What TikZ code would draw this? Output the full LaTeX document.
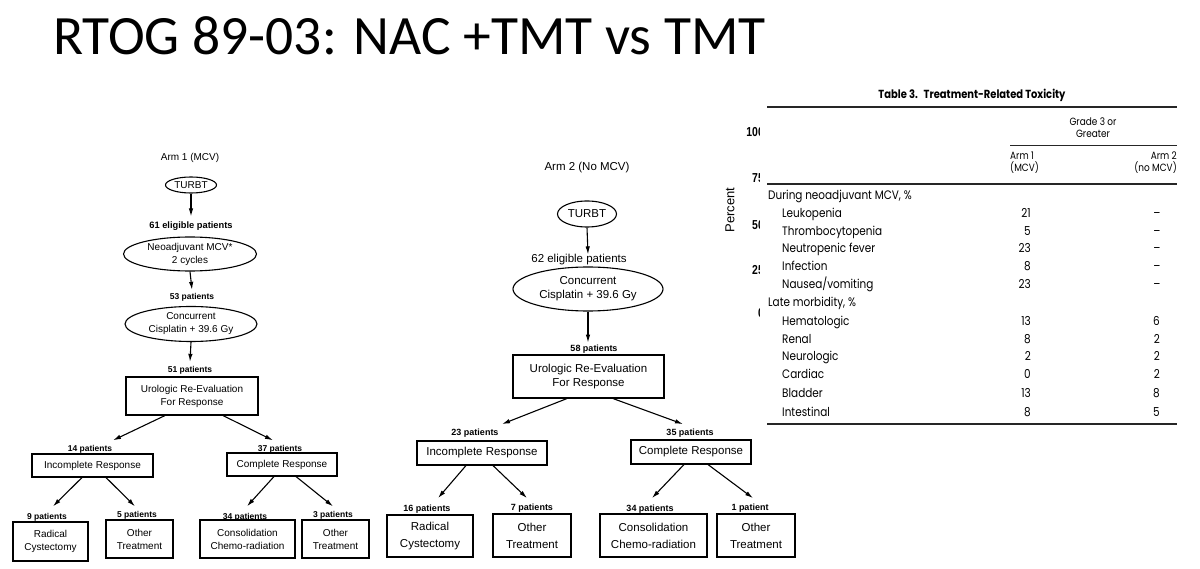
\documentclass[tikz,border=0pt]{standalone}
\usepackage{fontspec}
\usetikzlibrary{shapes.geometric,arrows.meta}
\setmainfont{Liberation Sans}
\newfontfamily\titlefont{Carlito}
\newfontfamily\fcfont{Liberation Sans}
\newfontfamily\tabfont[FakeStretch=0.85]{Poppins}
\newfontfamily\axfont[FakeStretch=0.8]{Liberation Sans}
\newcommand\fsz[2]{\fontsize{#1}{#2}\selectfont}
\begin{document}
\begin{tikzpicture}[x=1pt,y=-1pt,
  fc/.style={font=\fcfont\fsz{10}{13}, align=center, inner sep=0pt},
  fcR/.style={font=\fcfont\fsz{11.5}{14}, align=center, inner sep=0pt},
  fcRb/.style={font=\fcfont\fsz{11.5}{17}, align=center, inner sep=0pt},
  cnt/.style={font=\fcfont\bfseries\fsz{8.5}{10}, inner sep=0pt},
  cntR/.style={font=\fcfont\bfseries\fsz{9}{10}, inner sep=0pt},
  ell/.style={draw, ellipse, line width=1.1pt, inner sep=0pt},
  box/.style={draw, rectangle, line width=1.1pt, inner sep=0pt},
  arr/.style={-{Latex[length=8pt,width=4.5pt]}, line width=1.1pt},
  tab/.style={font=\tabfont\fsz{12.3}{14}, inner sep=0pt},
  tabh/.style={font=\tabfont\fsz{10.5}{12}, inner sep=0pt},
  rule/.style={line width=1.3pt, draw=black!85},
  thinrule/.style={line width=0.8pt, draw=black!85},
  ax/.style={font=\axfont\bfseries\fsz{13}{14}, inner sep=0pt, anchor=base east}
]
\fill[white] (0,0) rectangle (1200,569);
\useasboundingbox (0,0) rectangle (1200,569);

% title
\node[font=\titlefont\fsz{55.5}{60}, anchor=base west, inner sep=0pt] (title) at (53,55) {RTOG 89-03: NAC +TMT vs TMT};

% ---------- Arm 1 ----------
\node[fc] (arm1) at (190,158) {Arm 1 (MCV)};
\node[ell, fc, minimum width=51, minimum height=16] (turbt1) at (191,185) {TURBT};
\node[cnt, font=\fcfont\bfseries\fsz{9.3}{10}] (elig1) at (191,226) {61 eligible patients};
\node[ell, fc, minimum width=133, minimum height=34] (neo1) at (190,254) {Neoadjuvant MCV*\\2 cycles};
\node[cnt] (p53) at (192,297) {53 patients};
\node[ell, fc, minimum width=132, minimum height=35] (conc1) at (191,324) {Concurrent\\Cisplatin + 39.6 Gy};
\node[cnt] (p51) at (190,370) {51 patients};
\node[box, fc, minimum width=132, minimum height=38] (uro1) at (192,396) {Urologic Re-Evaluation\\For Response};
\node[cnt] (p14) at (90,449) {14 patients};
\node[cnt] (p37) at (280,449) {37 patients};
\node[box, fc, minimum width=121, minimum height=23] (inc1) at (92.5,465.5) {Incomplete Response};
\node[box, fc, minimum width=110, minimum height=23] (comp1) at (282,464.5) {Complete Response};
\node[cnt] (p9) at (47,517) {9 patients};
\node[cnt] (p5) at (137,515) {5 patients};
\node[cnt] (p34) at (245,517) {34 patients};
\node[cnt] (p3) at (333,515) {3 patients};
\node[box, fc, minimum width=75, minimum height=39] (rc1) at (50.5,541.5) {Radical\\Cystectomy};
\node[box, fc, minimum width=67, minimum height=38] (ot1) at (139.5,539) {Other\\Treatment};
\node[box, fc, minimum width=95, minimum height=38] (cc1) at (247.5,539) {Consolidation\\Chemo-radiation};
\node[box, fc, minimum width=67, minimum height=38] (ot1b) at (335.5,539) {Other\\Treatment};

\draw[arr] (turbt1.south) -- ([yshift=5pt]elig1.north);
\draw[arr] (neo1.south) -- ([yshift=3pt]p53.north);
\draw[arr] (conc1.south) -- ([yshift=4pt]p51.north);
\draw[arr] ([xshift=-27pt]uro1.south) -- ([xshift=23pt,yshift=4.5pt]p14.north);
\draw[arr] ([xshift=31pt]uro1.south) -- ([xshift=-7pt,yshift=4.5pt]p37.north);
\draw[arr] ([xshift=-10.5pt]inc1.south) -- ([xshift=6pt,yshift=6.5pt]p9.north);
\draw[arr] ([xshift=13.5pt]inc1.south) -- ([xshift=-2pt,yshift=4.5pt]p5.north);
\draw[arr] ([xshift=-8pt]comp1.south) -- ([xshift=2pt,yshift=6.5pt]p34.north);
\draw[arr] ([xshift=14pt]comp1.south) -- ([yshift=4.5pt]p3.north);

% ---------- Arm 2 ----------
\node[fcR] (arm2) at (587,168) {Arm 2 (No MCV)};
\node[ell, fcR, minimum width=59, minimum height=26] (turbt2) at (587,214) {TURBT};
\node[fcR] (elig2) at (579,260) {62 eligible patients};
\node[ell, fcR, minimum width=150, minimum height=44] (conc2) at (588,289) {Concurrent\\Cisplatin + 39.6 Gy};
\node[cntR] (p58) at (594,349) {58 patients};
\node[box, fcR, minimum width=151, minimum height=43] (uro2) at (588.5,376.5) {Urologic Re-Evaluation\\For Response};
\node[cntR] (p23) at (475,433) {23 patients};
\node[cntR] (p35) at (690,433) {35 patients};
\node[box, fcR, minimum width=130, minimum height=24] (inc2) at (482,453) {Incomplete Response};
\node[box, fcR, minimum width=120, minimum height=24] (comp2) at (691,452) {Complete Response};
\node[cntR] (p16) at (427,509) {16 patients};
\node[cntR] (p7) at (532,508) {7 patients};
\node[cntR] (p34b) at (650,509) {34 patients};
\node[cntR] (p1) at (750,508) {1 patient};
\node[box, fcRb, minimum width=86, minimum height=42] (rc2) at (430,536) {Radical\\Cystectomy};
\node[box, fcRb, minimum width=78, minimum height=43] (ot2) at (532,535.5) {Other\\Treatment};
\node[box, fcRb, minimum width=107, minimum height=43] (cc2) at (653.5,535.5) {Consolidation\\Chemo-radiation};
\node[box, fcRb, minimum width=78, minimum height=43] (ot2b) at (756,535.5) {Other\\Treatment};

\draw[arr] (turbt2.south) -- ([xshift=9pt]elig2.north);
\draw[arr] (conc2.south) -- ([xshift=-6pt,yshift=2pt]p58.north);
\draw[arr] ([xshift=-21.5pt]uro2.south) -- ([xshift=27pt,yshift=4.5pt]p23.north);
\draw[arr] ([xshift=24.5pt]uro2.south) -- ([xshift=-7pt,yshift=4.5pt]p35.north);
\draw[arr] ([xshift=-16pt]inc2.south) -- ([xshift=11pt,yshift=6.5pt]p16.north);
\draw[arr] ([xshift=11pt]inc2.south) -- ([xshift=-5pt,yshift=5.5pt]p7.north);
\draw[arr] ([xshift=-7pt]comp2.south) -- ([xshift=2pt,yshift=6.5pt]p34b.north);
\draw[arr] ([xshift=17pt]comp2.south) -- ([xshift=3pt,yshift=5.5pt]p1.north);

% ---------- chart remnant behind the table ----------
\node[ax] (y100) at (764,137) {100};
\node[ax] (y75) at (764,183) {75};
\node[ax] (y50) at (764,230) {50};
\node[ax] (y25) at (764,275) {25};
\node[ax] (y0) at (764,318) {0};
\node[font=\fcfont\fsz{13}{14}, rotate=90, inner sep=0pt] (pct) at (730,210) {Percent};

% ---------- table ----------
\fill[white] (759.5,75) rectangle (1195,440);
\node[font=\tabfont\bfseries\fsz{11.7}{13}, inner sep=0pt] (ttl) at (972,95) {Table 3.\enspace Treatment-Related Toxicity};
\draw[rule] (767,107) -- (1177,107);
\node[tabh, align=center] (grade) at (1093,127.5) {Grade 3 or\\Greater};
\draw[thinrule] (1010,145) -- (1177,145);
\node[tabh, align=left, anchor=west] (a1h) at (1010,163) {Arm 1\\(MCV)};
\node[tabh, align=right, anchor=east] (a2h) at (1177,163) {Arm 2\\(no MCV)};
\draw[rule] (767,184) -- (1177,184);

\node[tab, anchor=base west] (s1) at (768,200) {During neoadjuvant MCV, \%};
\foreach \lbl/\va/\yy [count=\i] in {
  Leukopenia/21/218, Thrombocytopenia/5/236, Neutropenic fever/23/253,
  Infection/8/271, Nausea\slash vomiting/23/289}{
  \node[tab, anchor=base west] (ra\i) at (782,\yy) {\lbl};
  \node[tab, anchor=base east] (ra\i c1) at (1031,\yy) {\va};
  \node[tab, anchor=base] (ra\i c2) at (1157,\yy) {\textendash};
}
\node[tab, anchor=base west] (s2) at (768,307) {Late morbidity, \%};
\foreach \lbl/\va/\vb/\yy [count=\i] in {
  Hematologic/13/6/326, Renal/8/2/344, Neurologic/2/2/361,
  Cardiac/0/2/379, Bladder/13/8/397, Intestinal/8/5/416}{
  \node[tab, anchor=base west] (rb\i) at (782,\yy) {\lbl};
  \node[tab, anchor=base east] (rb\i c1) at (1031,\yy) {\va};
  \node[tab, anchor=base east] (rb\i c2) at (1160,\yy) {\vb};
}
\draw[rule] (767,424) -- (1177,424);
\end{tikzpicture}
\end{document}
